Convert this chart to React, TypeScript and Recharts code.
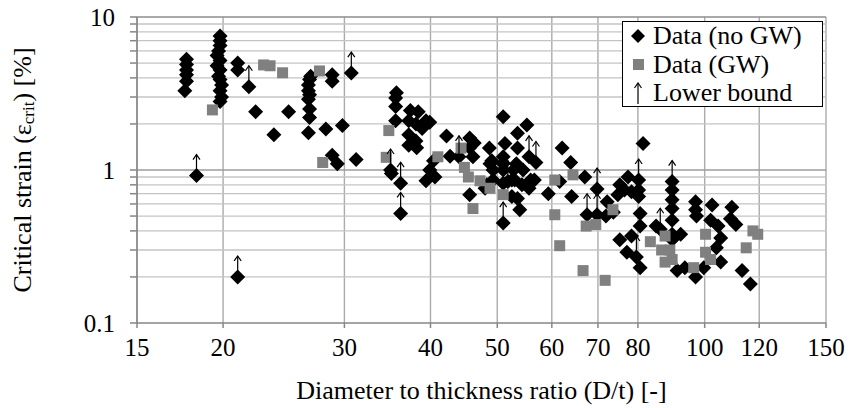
import {
  CartesianGrid,
  Legend,
  ReferenceLine,
  Scatter,
  ScatterChart,
  XAxis,
  YAxis,
} from 'recharts';

// D/t ratio vs critical strain [%]
const noGwPoints: [number, number][] = [
  [17.7, 5.3], [17.7, 4.9], [17.7, 4.5], [17.7, 4.2], [17.7, 3.8], [17.6, 3.3],
  [19.8, 7.5], [19.8, 7.0], [19.8, 6.5], [19.7, 6.0], [19.6, 5.6], [19.8, 5.2],
  [19.6, 4.8], [19.8, 4.5], [19.7, 4.1], [19.8, 3.9], [19.9, 3.6], [19.8, 3.3],
  [19.9, 3.0], [19.8, 2.8],
  [21.0, 5.0], [21.0, 4.5], [22.3, 2.4], [23.7, 1.7], [24.9, 2.4],
  [26.8, 4.1], [26.7, 3.9], [26.6, 3.6], [26.6, 3.3], [26.7, 3.1], [26.6, 2.9],
  [26.7, 2.5], [26.7, 2.2], [26.6, 1.75],
  [28.2, 1.85], [28.8, 4.2], [28.8, 3.8], [28.8, 1.25], [29.3, 1.1], [29.8, 1.95],
  [31.2, 1.17],
  [35.7, 3.2], [35.6, 2.95], [35.6, 2.6], [35.6, 2.1], [35.1, 0.95],
  [37.4, 2.45], [38.4, 2.4], [37.2, 2.1], [38.1, 2.0], [39.4, 2.1], [39.9, 2.05],
  [38.9, 1.87], [37.2, 1.7], [38.1, 1.55], [37.2, 1.45], [38.2, 1.4],
  [40.4, 1.15], [39.9, 1.0], [39.4, 0.85], [40.6, 0.9],
  [42.2, 1.67], [42.7, 1.23],
  [45.6, 1.62], [46.3, 1.5], [45.6, 1.4], [46.1, 1.22], [45.6, 0.69], [48.0, 0.76],
  [48.7, 1.39], [49.1, 1.15], [49.3, 1.0], [48.3, 0.8], [49.3, 0.86],
  [51.0, 2.23], [51.3, 1.49], [51.0, 1.22], [51.0, 1.1], [51.0, 1.0], [51.0, 0.82],
  [53.5, 1.74], [55.2, 1.97], [53.5, 1.39], [53.3, 1.1], [54.5, 1.0], [55.9, 0.86],
  [54.3, 0.8], [55.6, 0.76], [53.5, 0.65], [53.9, 0.55], [52.5, 0.67], [52.8, 1.0],
  [52.5, 0.86], [56.6, 0.86],
  [59.3, 0.7], [62.1, 1.39], [63.9, 1.12], [64.1, 0.67], [61.6, 0.84], [67.0, 0.9],
  [72.2, 0.62], [71.9, 0.5], [73.7, 0.53],
  [75.3, 0.8], [77.4, 0.9], [76.5, 0.74], [74.8, 0.69], [78.3, 0.72],
  [81.4, 1.49], [80.2, 0.74], [80.2, 0.67], [80.6, 0.52], [80.6, 0.43], [78.3, 0.37],
  [75.3, 0.35], [77.1, 0.29], [80.6, 0.23],
  [85.0, 0.43],
  [89.7, 0.74], [89.7, 0.64], [89.7, 0.56], [89.7, 0.47], [89.7, 0.38], [89.7, 0.35],
  [92.3, 0.38], [91.2, 0.22], [93.6, 0.23],
  [97.0, 0.62], [97.0, 0.55], [97.3, 0.5], [102.5, 0.59], [102.0, 0.47], [104.6, 0.43],
  [105.5, 0.36], [104.0, 0.31], [105.5, 0.25], [97.0, 0.2], [99.7, 0.23],
  [109.5, 0.57], [109.0, 0.48], [111.0, 0.44], [113.3, 0.22], [116.5, 0.18],
];

const gwPoints: [number, number][] = [
  [19.3, 2.47], [22.9, 4.86], [23.4, 4.8], [24.4, 4.32], [27.6, 4.44], [27.9, 1.12],
  [34.8, 1.81], [34.5, 1.21],
  [41.0, 1.22], [44.3, 1.39], [44.8, 1.04], [45.4, 0.9], [47.2, 0.85], [48.8, 0.76],
  [46.1, 0.56], [51.0, 0.69],
  [60.6, 0.86], [64.4, 0.93], [60.6, 0.51], [61.6, 0.32], [67.3, 0.43], [69.5, 0.44],
  [66.6, 0.22], [71.7, 0.19], [73.6, 0.55],
  [83.4, 0.34], [87.6, 0.37], [86.6, 0.3], [89.0, 0.3], [87.6, 0.25], [89.7, 0.26],
  [100.3, 0.38], [100.3, 0.29], [102.0, 0.26], [96.4, 0.23],
  [117.5, 0.4], [119.4, 0.38], [114.9, 0.31],
];

// tests that did not fail: value is a lower bound (diamond + arrow)
const lowerBoundPoints: [number, number][] = [
  [18.3, 0.92], [21.0, 0.2], [21.8, 3.5], [30.7, 4.3], [35.0, 1.0], [36.2, 0.82],
  [36.2, 0.52], [44.0, 1.22], [48.8, 1.1], [51.8, 0.84], [53.0, 0.86], [51.0, 0.45],
  [55.6, 1.22], [56.9, 1.12], [67.5, 0.51], [69.8, 0.75], [69.8, 0.51], [80.2, 0.86],
  [79.6, 0.27], [86.2, 0.41], [89.7, 0.84],
];

const xTicks = [15, 20, 30, 40, 50, 60, 70, 80, 100, 120, 150];
const yTicks = [
  0.1, 0.2, 0.3, 0.4, 0.5, 0.6, 0.7, 0.8, 0.9,
  1, 2, 3, 4, 5, 6, 7, 8, 9, 10,
];
const yLabelled = [0.1, 1, 10];

const FONT = '"Liberation Serif", "Times New Roman", serif';
const AXIS = '#868686';

const toRows = (pts: [number, number][]) => pts.map(([x, y]) => ({ x, y }));

function Diamond(props: any) {
  const { cx, cy } = props;
  const r = 7.5;
  return <path d={`M${cx},${cy - r}L${cx + r},${cy}L${cx},${cy + r}L${cx - r},${cy}Z`} fill="#000" />;
}

function GreySquare(props: any) {
  const { cx, cy } = props;
  return <rect x={cx - 5.5} y={cy - 5.5} width={11} height={11} fill="#808080" />;
}

function UpArrow(props: any) {
  const { cx, cy } = props;
  const top = cy - 21;
  return (
    <g stroke="#000" strokeWidth={1.2} fill="none">
      <line x1={cx} y1={cy} x2={cx} y2={top} />
      <polyline points={`${cx - 3.5},${top + 5} ${cx},${top} ${cx + 3.5},${top + 5}`} />
    </g>
  );
}

function YTitle(props: any) {
  const { viewBox } = props;
  const x = viewBox.x + 22;
  const y = viewBox.y + viewBox.height / 2;
  return (
    <text
      x={x}
      y={y}
      transform={`rotate(-90, ${x}, ${y})`}
      textAnchor="middle"
      dominantBaseline="central"
      fontFamily={FONT}
      fontSize={26}
      fill="#000"
    >
      Critical strain (ε
      <tspan fontSize={17} dy={6}>crit</tspan>
      <tspan dy={-6}>) [%]</tspan>
    </text>
  );
}

function XTitle(props: any) {
  const { viewBox } = props;
  return (
    <text
      x={viewBox.x + viewBox.width / 2}
      y={viewBox.y + 67}
      textAnchor="middle"
      dominantBaseline="central"
      fontFamily={FONT}
      fontSize={26}
      fill="#000"
    >
      Diameter to thickness ratio (D/t) [-]
    </text>
  );
}

function LegendBox() {
  const row = { display: 'flex', alignItems: 'center', height: 28.5 } as const;
  const icon = { width: 30, display: 'flex', justifyContent: 'center' } as const;
  return (
    <div
      style={{
        width: 199,
        height: 84,
        border: '1.5px solid #000',
        background: '#fff',
        fontFamily: FONT,
        fontSize: 26,
        lineHeight: 1,
        color: '#000',
        boxSizing: 'content-box',
      }}
    >
      <div style={row}>
        <span style={icon}>
          <svg width={14} height={14}><path d="M7,0L14,7L7,14L0,7Z" fill="#000" /></svg>
        </span>
        <span>Data (no GW)</span>
      </div>
      <div style={row}>
        <span style={icon}>
          <svg width={11} height={11}><rect width={11} height={11} fill="#808080" /></svg>
        </span>
        <span>Data (GW)</span>
      </div>
      <div style={row}>
        <span style={icon}>
          <svg width={10} height={22}>
            <g stroke="#000" strokeWidth={1.2} fill="none">
              <line x1={5} y1={22} x2={5} y2={1} />
              <polyline points="1.5,6 5,1 8.5,6" />
            </g>
          </svg>
        </span>
        <span>Lower bound</span>
      </div>
    </div>
  );
}

export default function App() {
  const minorY = yTicks.filter((v) => v !== 0.1 && v !== 10);
  return (
    <div style={{ position: 'absolute', left: 0, top: 0, background: '#fff' }}>
      <ScatterChart
        width={849}
        height={408}
        margin={{ top: 17, right: 23, bottom: 0, left: 0 }}
      >
        <CartesianGrid horizontal={false} stroke="#ababab" strokeWidth={1.4} />
        {minorY.map((v) => (
          <ReferenceLine
            key={v}
            y={v}
            stroke={v === 1 ? '#9c9c9c' : '#c4c4c4'}
            strokeWidth={v === 1 ? 1.6 : 1.3}
          />
        ))}
        <ReferenceLine y={10} stroke="#8c8c8c" strokeWidth={1.5} />
        <XAxis
          type="number"
          dataKey="x"
          scale="log"
          domain={[15, 150]}
          ticks={xTicks}
          interval={0}
          allowDataOverflow
          height={85}
          stroke={AXIS}
          strokeWidth={1.5}
          tickSize={5}
          tickMargin={10}
          tick={{ fill: '#000', fontSize: 25, fontFamily: FONT }}
          label={<XTitle />}
        />
        <YAxis
          type="number"
          dataKey="y"
          scale="log"
          domain={[0.1, 10]}
          ticks={yTicks}
          interval={0}
          allowDataOverflow
          width={137}
          stroke={AXIS}
          strokeWidth={1.5}
          tickSize={7}
          tickMargin={15}
          tickFormatter={(v) => (yLabelled.includes(Number(v)) ? String(v) : '')}
          tick={{ fill: '#000', fontSize: 25, fontFamily: FONT }}
          label={<YTitle />}
        />
        <Legend
          layout="horizontal"
          verticalAlign="middle"
          align="center"
          content={() => <LegendBox />}
          wrapperStyle={{ position: 'absolute', left: 622, top: 21, width: 'auto' }}
        />
        <Scatter
          name="Data (no GW)"
          data={toRows([...noGwPoints, ...lowerBoundPoints])}
          shape={<Diamond />}
          isAnimationActive={false}
        />
        <Scatter
          name="Data (GW)"
          data={toRows(gwPoints)}
          shape={<GreySquare />}
          isAnimationActive={false}
        />
        <Scatter
          name="Lower bound"
          data={toRows(lowerBoundPoints)}
          shape={<UpArrow />}
          isAnimationActive={false}
        />
      </ScatterChart>
    </div>
  );
}
